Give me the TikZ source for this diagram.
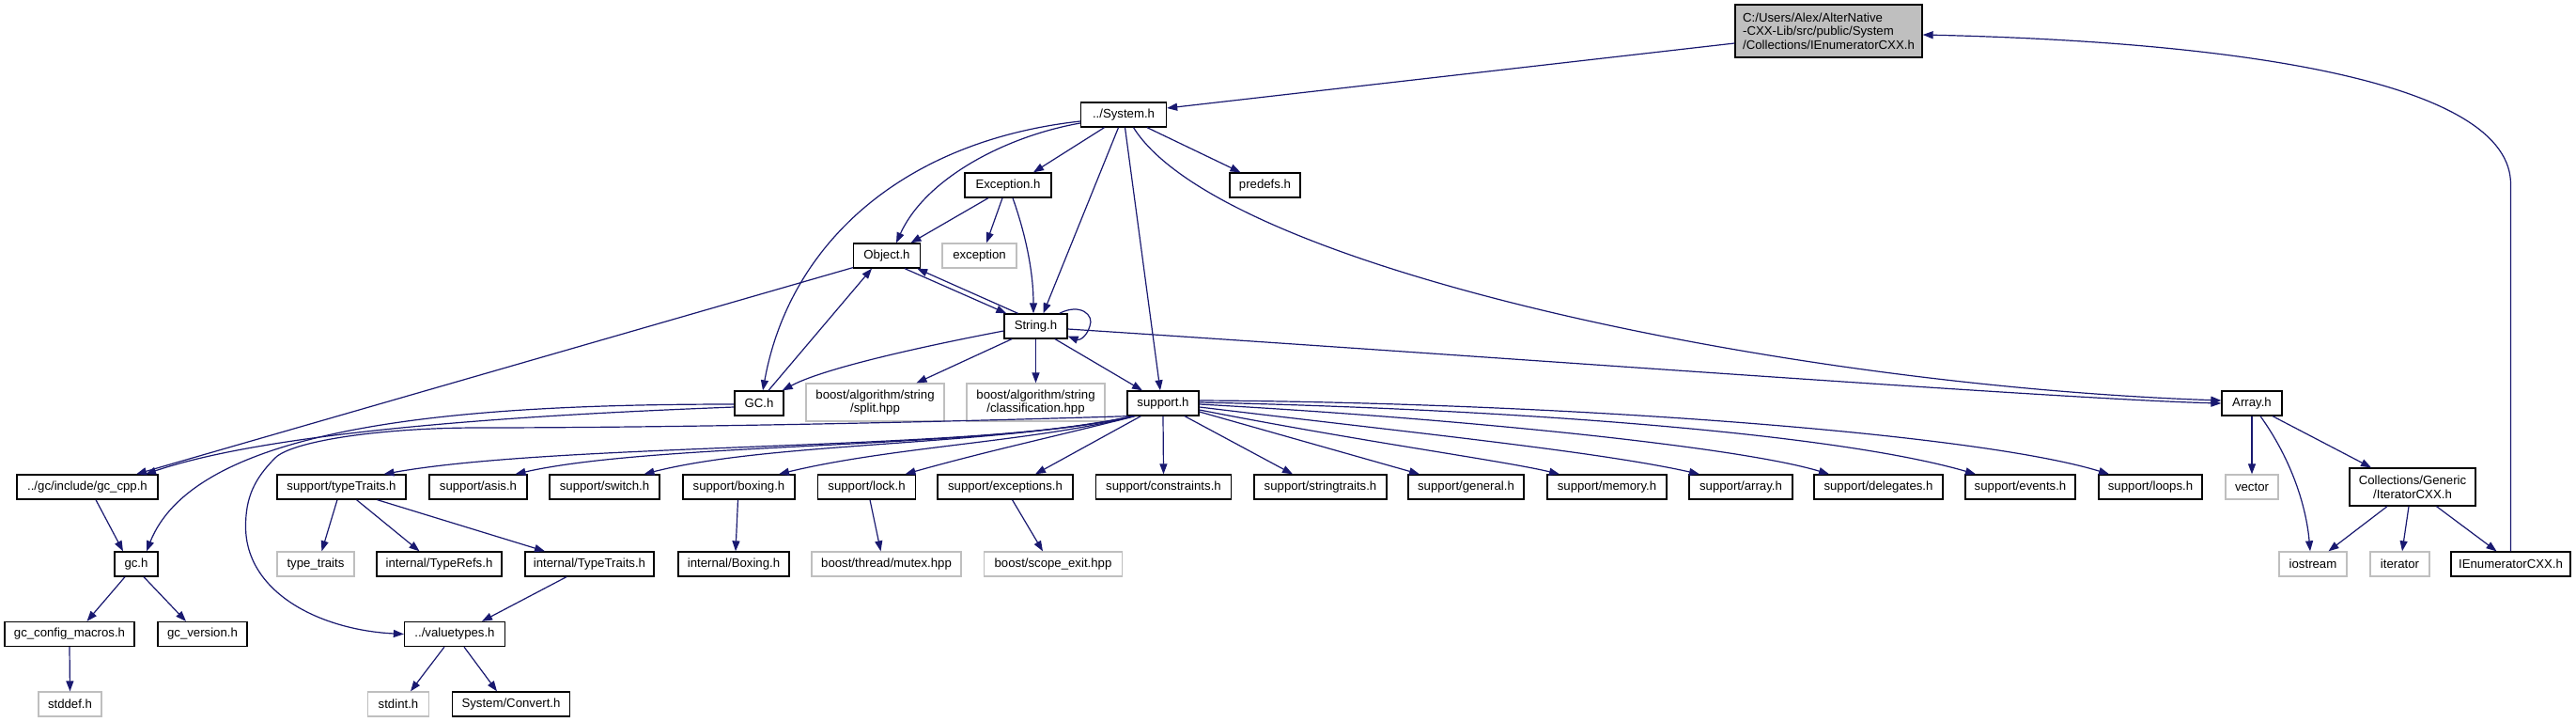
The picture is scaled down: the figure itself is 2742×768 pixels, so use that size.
\documentclass[tikz,border=0pt]{standalone}
\usepackage{fontspec}
\setmainfont{Liberation Sans}
\usetikzlibrary{arrows.meta}
\definecolor{edgec}{HTML}{191970}
\definecolor{gbord}{HTML}{BFBFBF}
\definecolor{topfill}{HTML}{BFBFBF}
\newcommand\fsz{\fontsize{13.2}{14.6}\selectfont}
\newcommand\nb[7]{\node[#1, minimum width=#5pt, minimum height=#6pt] (#2) at (#3,#4) {#7};}
\tikzset{
  fb/.style={draw=black, line width=1.3pt, fill=white, inner sep=0pt, font=\fsz, align=center},
  gb/.style={draw=gbord, line width=1.3pt, fill=white, inner sep=0pt, font=\fsz, align=center},
  e/.style={draw=edgec, line width=1.2pt, -{Triangle[length=11pt,width=8pt]}}
}
\begin{document}
\begin{tikzpicture}[x=1pt,y=-1pt]
\useasboundingbox (0,0) rectangle (2742,768);
\fill[white] (0,0) rectangle (2742,768);
% nodes
\node[fb, fill=topfill, align=left, minimum width=199pt, minimum height=56pt] (top) at (1946.5,33) {C:/Users/Alex/AlterNative\\-CXX-Lib/src/public/System\\/Collections/IEnumeratorCXX.h};
\nb{fb}{sys}{1196}{122}{91}{26}{../System.h}
\nb{fb}{exc}{1073}{197}{92}{26}{Exception.h}
\nb{fb}{predefs}{1346.5}{197}{75}{26}{predefs.h}
\nb{gb}{excp}{1042.5}{272}{79}{26}{exception}
\nb{fb}{obj}{944}{272}{71}{26}{Object.h}
\nb{fb}{str}{1102.5}{347}{67}{26}{String.h}
\nb{fb}{gc}{808}{429}{52}{26}{GC.h}
\nb{gb}{split}{931.5}{428}{147}{40}{boost/algorithm/string\\/split.hpp}
\nb{gb}{cls}{1102.5}{428}{147}{40}{boost/algorithm/string\\/classification.hpp}
\nb{fb}{sup}{1238}{429}{76}{26}{support.h}
\nb{fb}{arr}{2397}{429}{64}{26}{Array.h}
% rank 518
\nb{fb}{gccpp}{93}{518}{150}{26}{../gc/include/gc\_cpp.h}
\nb{fb}{tt}{363.5}{518}{137}{26}{support/typeTraits.h}
\nb{fb}{asis}{509}{518}{104}{26}{support/asis.h}
\nb{fb}{sw}{643.5}{518}{117}{26}{support/switch.h}
\nb{fb}{box}{786.5}{518}{119}{26}{support/boxing.h}
\nb{fb}{lock}{922.5}{518}{104}{26}{support/lock.h}
\nb{fb}{exs}{1070}{518}{144}{26}{support/exceptions.h}
\nb{fb}{cons}{1238.5}{518}{144}{26}{support/constraints.h}
\nb{fb}{strt}{1405.5}{518}{141}{26}{support/stringtraits.h}
\nb{fb}{gen}{1560.5}{518}{123}{26}{support/general.h}
\nb{fb}{mem}{1710.5}{518}{127}{26}{support/memory.h}
\nb{fb}{sarr}{1853}{518}{110}{26}{support/array.h}
\nb{fb}{del}{1999.5}{518}{137}{26}{support/delegates.h}
\nb{fb}{evt}{2150.5}{518}{117}{26}{support/events.h}
\nb{fb}{loop}{2289}{518}{110}{26}{support/loops.h}
\nb{gb}{vec}{2397}{518}{56}{26}{vector}
\nb{fb}{itcxx}{2568}{518}{134}{40}{Collections/Generic\\/IteratorCXX.h}
% rank 600
\nb{fb}{gch}{145}{600}{46}{26}{gc.h}
\nb{gb}{typet}{336}{600}{82}{26}{type\_traits}
\nb{fb}{trefs}{467.5}{600}{133}{26}{internal/TypeRefs.h}
\nb{fb}{itr}{627.5}{600}{137}{26}{internal/TypeTraits.h}
\nb{fb}{ibox}{781}{600}{118}{26}{internal/Boxing.h}
\nb{gb}{mutex}{943.5}{600}{159}{26}{boost/thread/mutex.hpp}
\nb{gb}{scope}{1121}{600}{147}{26}{boost/scope\_exit.hpp}
\nb{gb}{ios}{2462}{600}{72}{26}{iostream}
\nb{gb}{iter}{2554.5}{600}{63}{26}{iterator}
\nb{fb}{ienum}{2672.5}{600}{127}{26}{IEnumeratorCXX.h}
% rank 674.5
\nb{fb}{cfg}{74}{674.5}{138}{26}{gc\_config\_macros.h}
\nb{fb}{ver}{215.5}{674.5}{95}{26}{gc\_version.h}
\nb{fb}{vt}{484}{674.5}{107}{26}{../valuetypes.h}
% rank 749
\nb{gb}{stddef}{74.5}{749}{67}{26}{stddef.h}
\nb{gb}{stdint}{424}{749}{65}{26}{stdint.h}
\nb{fb}{conv}{544}{749}{124.5}{26}{System/Convert.h}
% edges
\draw[e] ([yshift=-13pt]top.west) -- ([yshift=7pt]sys.east);
\draw[e] (ienum.north) -- (2672.5,196) .. controls (2672.5,90) and (2400,45) .. ([yshift=-4pt]top.east);
\draw[e] ([xshift=-20.5pt]sys.south) -- ([xshift=27pt]exc.north);
\draw[e] ([xshift=25pt]sys.south) -- ([xshift=-26pt]predefs.north);
\draw[e] ([yshift=-9pt]sys.west) .. controls (1070,145) and (985,190) .. ([xshift=10pt]obj.north);
\draw[e] ([yshift=-7pt]sys.west) .. controls (960,150) and (840,260) .. ([xshift=4pt]gc.north);
\draw[e] ([xshift=-5.5pt]sys.south) -- ([xshift=8pt]str.north);
\draw[e] ([xshift=1.5pt]sys.south) -- ([xshift=-3pt]sup.north);
\draw[e] ([xshift=10.5pt]sys.south) .. controls (1300,285) and (1900,410) .. ([yshift=3pt]arr.west);
\draw[e] ([xshift=-21pt]exc.south) -- ([xshift=25.5pt]obj.north);
\draw[e] ([xshift=-6pt]exc.south) -- ([xshift=7.5pt]excp.north);
\draw[e] ([xshift=5pt]exc.south) .. controls (1092,250) and (1100,290) .. ([xshift=-2.5pt]str.north);
\draw[e] ([xshift=19pt]obj.south) -- ([xshift=3pt]str.north west);
\draw[e] ([xshift=-19pt]str.north) -- ([xshift=-4pt]obj.south east);
\draw[e] ([yshift=1pt]obj.south west) -- ([xshift=52pt]gccpp.north);
\draw[e] ([xshift=10pt]gc.north) -- ([xshift=-16pt]obj.south);
\draw[e] ([yshift=-4pt]gc.west) .. controls (600,440) and (300,455) .. ([xshift=62pt]gccpp.north);
\draw[e] ([yshift=-1pt]gc.west) .. controls (500,430) and (210,450) .. ([xshift=11pt]gch.north);
\draw[e] ([xshift=9pt]gccpp.south) -- ([xshift=-14pt]gch.north);
\draw[e] ([xshift=-12pt]gch.south) -- ([xshift=18.5pt]cfg.north);
\draw[e] ([xshift=8pt]gch.south) -- ([xshift=-17.5pt]ver.north);
\draw[e] (cfg.south) -- (stddef.north);
% support.h
\draw[e] ([xshift=2pt]sup.south west) .. controls (900,452) and (650,455) .. (510,455) .. controls (400,455) and (310,470) .. (293,487) .. controls (270,510) and (261.5,530) .. (261.5,560) .. controls (261.5,630) and (340,670) .. (vt.west);
\draw[e] ([xshift=7pt]sup.south west) .. controls (1050,480) and (600,470) .. ([xshift=45pt]tt.north);
\draw[e] ([xshift=7pt]sup.south west) .. controls (1050,478) and (700,470) .. ([xshift=39.5pt]asis.north);
\draw[e] ([xshift=7pt]sup.south west) .. controls (1050,475) and (820,470) .. ([xshift=42pt]sw.north);
\draw[e] ([xshift=8pt]sup.south west) .. controls (1100,470) and (950,475) .. ([xshift=42.5pt]box.north);
\draw[e] ([xshift=9pt]sup.south west) .. controls (1120,465) and (1050,480) .. ([xshift=41pt]lock.north);
\draw[e] ([xshift=15pt]sup.south west) -- ([xshift=32pt]exs.north);
\draw[e] (sup.south) -- (cons.north);
\draw[e] ([xshift=23pt]sup.south) -- ([xshift=-29.5pt]strt.north);
\draw[e] ([yshift=-9pt]sup.east) -- ([xshift=-49.5pt]gen.north);
\draw[e] ([yshift=-7pt]sup.east) .. controls (1450,470) and (1600,490) .. ([xshift=-50.5pt]mem.north);
\draw[e] ([yshift=-4pt]sup.east) .. controls (1500,460) and (1700,480) .. ([xshift=-44pt]sarr.north);
\draw[e] ([yshift=-1pt]sup.east) .. controls (1550,445) and (1850,475) .. ([xshift=-52.5pt]del.north);
\draw[e] ([yshift=1pt]sup.east) .. controls (1600,435) and (1950,460) .. ([xshift=-47.5pt]evt.north);
\draw[e] ([yshift=3pt]sup.east) .. controls (1650,428) and (2100,460) .. ([xshift=-44pt]loop.north);
% String.h
\draw[e] ([xshift=-9pt]str.north east) .. controls (1150,322) and (1165,335) .. (1160,347) .. controls (1156,360) and (1148,362) .. ([yshift=3pt]str.south east);
\draw[e] ([yshift=-5pt]str.west) .. controls (1000,365) and (880,390) .. ([xshift=-2pt]gc.north east);
\draw[e] ([xshift=-25.5pt]str.south) -- ([xshift=44pt]split.north);
\draw[e] (str.south) -- (cls.north);
\draw[e] ([xshift=20.5pt]str.south) -- ([xshift=-22pt]sup.north);
\draw[e] ([yshift=-3pt]str.east) .. controls (1600,380) and (2200,425) .. (arr.west);
% Array.h
\draw[e] (arr.south) -- (vec.north);
\draw[e] ([xshift=9pt]arr.south) .. controls (2440,490) and (2455,540) .. ([xshift=-3pt]ios.north);
\draw[e] ([xshift=22pt]arr.south) -- ([xshift=-44pt]itcxx.north);
\draw[e] ([xshift=-27pt]itcxx.south) -- ([xshift=16.5pt]ios.north);
\draw[e] ([xshift=-4pt]itcxx.south) -- ([xshift=2.5pt]iter.north);
\draw[e] ([xshift=25.5pt]itcxx.south) -- ([xshift=-15pt]ienum.north);
% lower
\draw[e] ([xshift=-4.5pt]tt.south) -- ([xshift=6.5pt]typet.north);
\draw[e] ([xshift=16pt]tt.south) -- ([xshift=-21pt]trefs.north);
\draw[e] ([xshift=38pt]tt.south) -- ([xshift=-47.5pt]itr.north);
\draw[e] ([xshift=-1pt]box.south) -- ([xshift=2pt]ibox.north);
\draw[e] ([xshift=3.5pt]lock.south) -- ([xshift=-6pt]mutex.north);
\draw[e] ([xshift=7.5pt]exs.south) -- ([xshift=-11pt]scope.north);
\draw[e] ([xshift=-24.5pt]itr.south) -- ([xshift=29pt]vt.north);
\draw[e] ([xshift=-11pt]vt.south) -- ([xshift=13pt]stdint.north);
\draw[e] ([xshift=10pt]vt.south) -- ([xshift=-15pt]conv.north);
\end{tikzpicture}
\end{document}
